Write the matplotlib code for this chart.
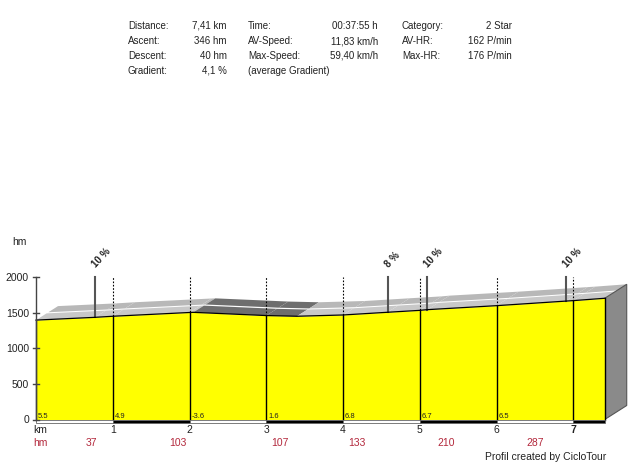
import numpy as np
import matplotlib
matplotlib.use('Agg')
import matplotlib.pyplot as plt
from matplotlib.patches import Polygon

plt.rcParams['font.family'] = ['Liberation Sans', 'DejaVu Sans']

# profile (km, hm)
prof_km = [0, 0.77, 1, 2, 2.05, 3, 3.4, 4, 4.58, 5, 5.1, 6, 6.9, 7, 7.41]
prof_hm = [1398, 1437, 1452, 1505, 1507, 1462, 1452, 1470, 1508, 1535, 1545, 1601, 1665, 1672, 1705]

km_ticks = [1, 2, 3, 4, 5, 6, 7]
grad_labels = ['5.5', '4.9', '-3.6', '1.6', '6.8', '6.7', '6.5']
hm_pos = [0.72, 1.85, 3.18, 4.18, 5.34, 6.5]
hm_labels = ['37', '103', '107', '133', '210', '287']
steep_km = [0.77, 4.58, 5.1, 6.9]
steep_labels = ['10 %', '8 %', '10 %', '10 %']
y_ticks = [0, 500, 1000, 1500, 2000]

header = [
    ['Distance:', '7,41 km', 'Time:', '00:37:55 h', 'Category:', '2 Star'],
    ['Ascent:', '346 hm', 'AV-Speed:', '11,83 km/h', 'AV-HR:', '162 P/min'],
    ['Descent:', '40 hm', 'Max-Speed:', '59,40 km/h', 'Max-HR:', '176 P/min'],
    ['Gradient:', '4,1 %', '(average Gradient)', '', '', ''],
]

# pixel geometry of the original
X0, SX = 36.0, 76.75      # px of km 0, px per km
Y0, SY = 420.5, 0.0711    # px (from top) of 0 hm, px per hm
W, H = 640, 464

def px2x(px):
    return (px - X0) / SX

def py2y(py):
    return (Y0 - py) / SY

OX = 22 / SX   # 3d depth offset
OY = 14 / SY

fig = plt.figure(figsize=(6.4, 4.64), dpi=100)
ax = fig.add_axes([0, 0, 1, 1])
ax.set_xlim(px2x(0), px2x(W))
ax.set_ylim(py2y(H), py2y(0))
ax.axis('off')

km = np.array(prof_km)
hm = np.array(prof_hm)
end = km[-1]

# top surface (two strips with a white gap)
for i in range(len(km) - 1):
    x1, x2, y1, y2 = km[i], km[i + 1], hm[i], hm[i + 1]
    down = y2 < y1
    cols = ['#6e6e6e', '#6e6e6e'] if down else ['#c8c8c8', '#b8b8b8']
    ax.add_patch(Polygon([(x1, y1), (x2, y2), (x2 + OX, y2 + OY), (x1 + OX, y1 + OY)],
                         closed=True, fc='white', ec='none', zorder=1))
    for (a, b), c in zip([(0.0, 0.48), (0.56, 1.0)], cols):
        ax.add_patch(Polygon([(x1 + a * OX, y1 + a * OY), (x2 + a * OX, y2 + a * OY),
                              (x2 + b * OX, y2 + b * OY), (x1 + b * OX, y1 + b * OY)],
                             closed=True, fc=c, ec='none', zorder=2))

# right face
ax.add_patch(Polygon([(end, 0), (end + OX, OY), (end + OX, hm[-1] + OY), (end, hm[-1])],
                     closed=True, fc='#8a8a8a', ec='#555555', lw=0.8, zorder=2))

# yellow body
ax.fill_between(km, 0, hm, color='#ffff00', lw=0, zorder=3)
ax.plot(km, hm, color='black', lw=0.9, zorder=5)
ax.plot([0, 0], [0, hm[0]], color='#444444', lw=1, zorder=5)
ax.plot([end, end], [0, hm[-1]], color='black', lw=1, zorder=5)

# km lines
for k in km_ticks:
    top = np.interp(k, km, hm)
    ax.plot([k, k], [0, top], color='black', lw=1, zorder=4)
    ax.plot([k, k], [top, 2000], color='black', lw=0.8, ls=(0, (1.5, 1.5)), zorder=4)
    ax.text(k, py2y(430), str(k), ha='center', va='center', fontsize=7.5,
            fontweight='bold' if k == 7 else 'normal', color='#222222')

# gradient per km
for k, g in zip([0] + km_ticks[:-1], grad_labels):
    ax.text(k + px2x(X0 + 2), 35, g, ha='left', va='baseline', fontsize=5.5, color='#222222', zorder=6)

# bottom band
bands = [0, 1, 2, 3, 4, 5, 6, 7, end]
for i in range(len(bands) - 1):
    c = 'white' if i % 2 == 0 else 'black'
    ax.add_patch(Polygon([(bands[i], 0), (bands[i + 1], 0), (bands[i + 1], -50), (bands[i], -50)],
                         closed=True, fc=c, ec='#666666', lw=0.6, zorder=6))

# steep markers
for k, lab in zip(steep_km, steep_labels):
    bottom = np.interp(k, km, hm)
    ax.plot([k, k], [bottom, 2000], color='#555555', lw=1.5, zorder=4)
    ax.text(k + 1 / SX, py2y(268), lab, rotation=47, rotation_mode='anchor',
            ha='left', va='baseline', fontsize=7, fontweight='bold', color='#222222')

# y axis
ax.plot([0, 0], [0, 2000], color='#444444', lw=1, zorder=6)
for t in y_ticks:
    ax.plot([-3.5 / SX, 3 / SX], [t, t], color='#444444', lw=1, zorder=6)
    ax.text(px2x(29), t, str(t), ha='right', va='center', fontsize=7.5, color='#222222')
ax.text(px2x(19), py2y(242), 'hm', ha='center', va='center', fontsize=7.5, color='#222222')
ax.text(px2x(40.5), py2y(430), 'km', ha='center', va='center', fontsize=7.5, color='#222222')
ax.text(px2x(40.5), py2y(443), 'hm', ha='center', va='center', fontsize=7.5, color='#b3283c')
for k, lab in zip(hm_pos, hm_labels):
    ax.text(k, py2y(443), lab, ha='center', va='center', fontsize=7.5, color='#b3283c')

fig.text(606 / W, 1 - 457 / H, 'Profil created by CicloTour', ha='right', va='center',
         fontsize=7.5, color='#222222')

# header block
lab_x = [128, 248, 402]
val_x = [227, 378, 512]
for r, row in enumerate(header):
    yy = 1 - (26 + 15 * r) / H
    for c in range(3):
        if row[2 * c]:
            fig.text(lab_x[c] / W, yy, row[2 * c], ha='left', va='center', fontsize=7, color='#222222')
        if row[2 * c + 1]:
            fig.text(val_x[c] / W, yy, row[2 * c + 1], ha='right', va='center', fontsize=7, color='#222222')

fig.savefig('out.png', dpi=100)
